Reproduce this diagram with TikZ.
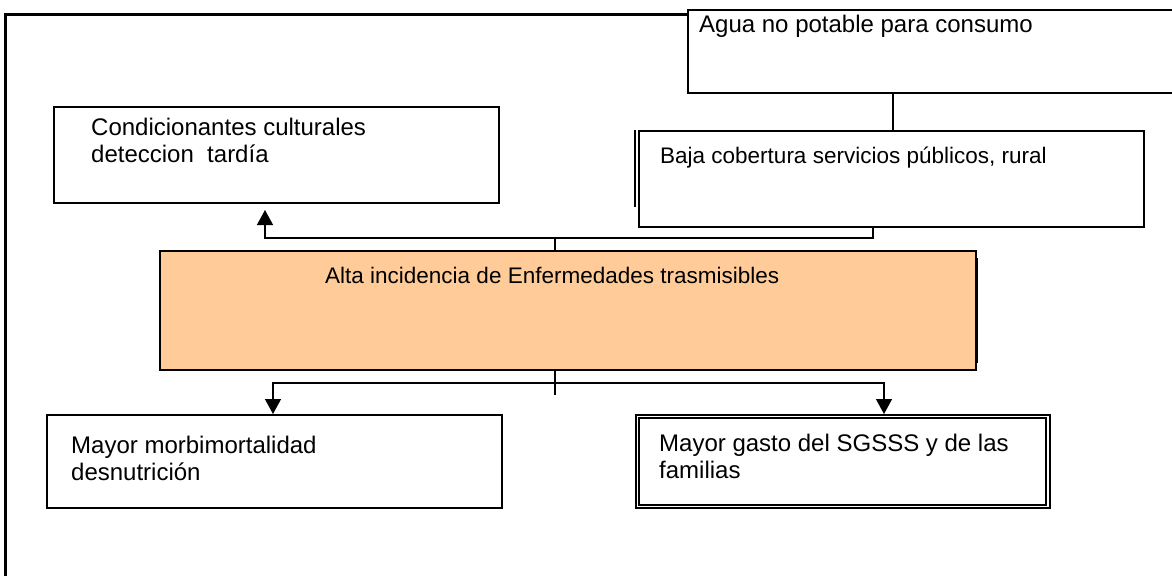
\documentclass[tikz,border=0pt]{standalone}
\usepackage{fontspec}
\setmainfont{Liberation Sans}
\usetikzlibrary{arrows.meta}
\definecolor{peach}{RGB}{255,204,153}
\begin{document}
\begin{tikzpicture}[x=1pt,y=-1pt,
  box/.style={draw=black,line width=2pt,fill=white,inner sep=0pt,anchor=north west},
  txt/.style={anchor=base west,inner sep=0pt,font=\fontsize{24}{27}\selectfont,align=left},
  txts/.style={txt,font=\fontsize{22.5}{27}\selectfont},
  conn/.style={line width=1.3pt},
  arr/.style={conn,-{Triangle[length=15pt,width=16pt]}}]
\useasboundingbox (0,0) rectangle (1172,576);
\fill[white] (0,0) rectangle (1172,576);
% outer frame
\draw[line width=3pt] (5,576) -- (5,14) -- (1172,14);
% boxes
\node[box,minimum width=500pt,minimum height=83pt] (agua) at (687,9) {};
\node[box,minimum width=505pt,minimum height=96pt] (baja) at (638,130) {};
\node[box,minimum width=445pt,minimum height=96pt] (cond) at (53,106) {};
\node[box,fill=peach,minimum width=816pt,minimum height=119pt] (alta) at (159,250) {};
\node[box,minimum width=455pt,minimum height=93pt] (morbi) at (46,414) {};
\node[box,minimum width=414pt,minimum height=93pt] (gasto) at (635,414) {};
% double edges
\draw[line width=2pt] (635,130) -- (635,207);
\draw[line width=2pt] (977,258) -- (977,363);
\draw[line width=1.5pt] (639,418) rectangle (1046,505);
% texts (base anchor = baseline of the last line)
\node[txt] (tagua) at (699,32) {Agua no potable para consumo};
\node[txts] (tbaja) at (660,163) {Baja cobertura servicios públicos, rural};
\node[txt] (tcond) at (91,162) {Condicionantes culturales\\deteccion\ \ tardía};
\node[txts] (talta) at (325,283) {Alta incidencia de Enfermedades trasmisibles};
\node[txt] (tmorbi) at (71,480) {Mayor morbimortalidad\\desnutrición};
\node[txt] (tgasto) at (659,478) {Mayor gasto del SGSSS y de las\\familias};
% helper coordinates
\coordinate (x893) at (893,0);
\coordinate (x873) at (873,0);
\coordinate (x265) at (265,0);
\coordinate (x273) at (273,0);
\coordinate (x884) at (884,0);
\coordinate (ju) at (555,238);
\coordinate (jd) at (555,383);
\coordinate (tail) at (555,395);
% connectors
\draw[conn] (agua.south -| x893) -- (baja.north -| x893);
\draw[arr] (baja.south -| x873) |- (ju) -| ([yshift=-6pt]cond.south -| x265);
\draw[conn] (ju) -- (alta.north -| ju);
\draw[conn] (alta.south -| jd) -- (tail);
\draw[arr] (jd) -| (morbi.north -| x273);
\draw[arr] (jd) -| (gasto.north -| x884);
\end{tikzpicture}
\end{document}
